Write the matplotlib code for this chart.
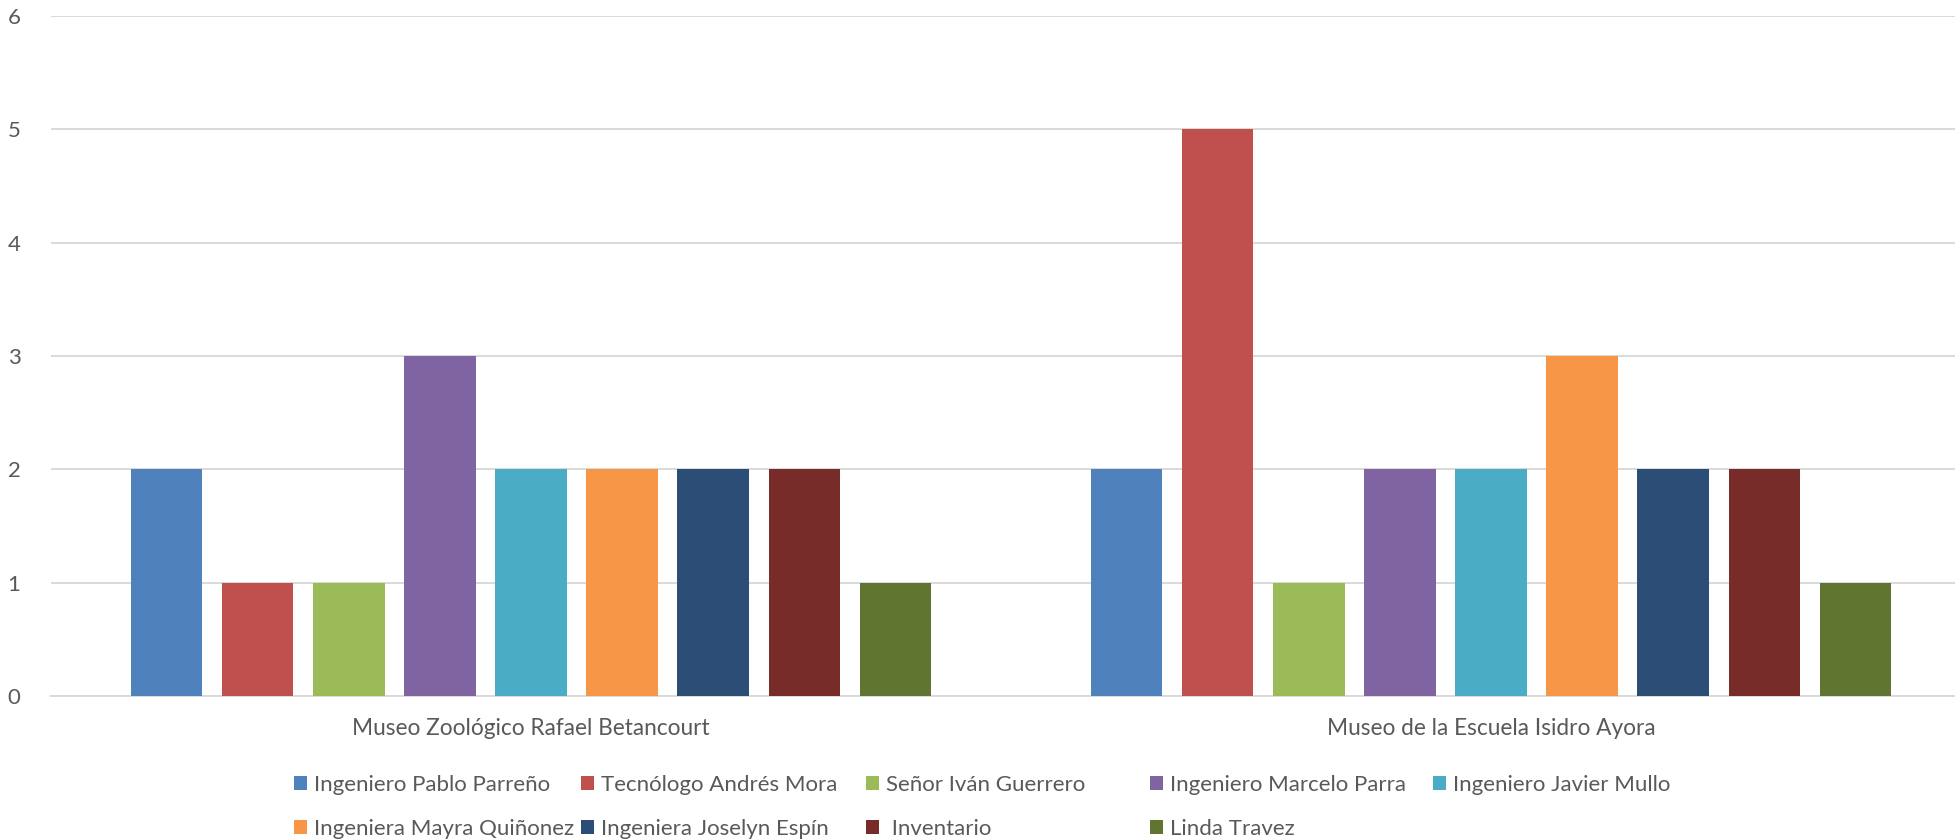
import matplotlib
matplotlib.use("Agg")
import matplotlib.pyplot as plt
from matplotlib.patches import Patch
import numpy as np

categories = ["Museo Zoológico Rafael Betancourt", "Museo de la Escuela Isidro Ayora"]
series_names = [
    "Ingeniero Pablo Parreño",
    "Tecnólogo Andrés Mora",
    "Señor Iván Guerrero",
    "Ingeniero Marcelo Parra",
    "Ingeniero Javier Mullo",
    "Ingeniera Mayra Quiñonez",
    "Ingeniera Joselyn Espín",
    " Inventario",
    "Linda Travez",
]
pablo = [2, 2]
andres = [1, 5]
ivan = [1, 1]
marcelo = [3, 2]
javier = [2, 2]
mayra = [2, 3]
joselyn = [2, 2]
inventario = [2, 2]
linda = [1, 1]
values = [pablo, andres, ivan, marcelo, javier, mayra, joselyn, inventario, linda]
colors = ["#4F81BD", "#C0504D", "#9BBB59", "#8064A2", "#4BACC6",
          "#F79646", "#2C4D75", "#772C2A", "#5F7530"]
yticks = [0, 1, 2, 3, 4, 5, 6]

FONT = "Lato"
TXT = "#595959"
plt.rcParams["font.family"] = [FONT, "DejaVu Sans"]

W, H = 1956, 840
fig = plt.figure(figsize=(W / 100, H / 100), dpi=100)
left, right, top, bottom = 51, 1971, 16, 696
ax = fig.add_axes([left / W, 1 - bottom / H, (right - left) / W, (bottom - top) / H])

x = np.arange(len(categories))
step = 0.0948
width = 0.074
n = len(series_names)
for i, (vals, c) in enumerate(zip(values, colors)):
    ax.bar(x + (i - (n - 1) / 2) * step, vals, width=width, color=c, zorder=3)

ax.set_xlim(-0.5, len(categories) - 0.5)
ax.set_ylim(0, 6)
ax.set_yticks(yticks)
ax.set_yticklabels([str(v) for v in yticks])
ax.set_xticks(x)
ax.set_xticklabels(categories, fontsize=16.3)
ax.grid(axis="y", color="#D9D9D9", linewidth=1.4, zorder=0)
for s in ["top", "right", "left"]:
    ax.spines[s].set_visible(False)
ax.spines["bottom"].set_color("#D9D9D9")
ax.spines["bottom"].set_linewidth(1.4)
ax.spines["bottom"].set_zorder(1)
ax.tick_params(axis="both", length=0, colors=TXT)
ax.tick_params(axis="y", pad=22, labelsize=16)
ax.tick_params(axis="x", pad=16)

# legend: 5 columns, filled row-major
col_x = [294, 581, 866, 1150, 1433]
handles = [Patch(facecolor=c, edgecolor="none") for c in colors]
ncol = 5
for j in range(ncol):
    idx = [k for k in range(n) if k % ncol == j]
    leg = fig.legend([handles[k] for k in idx], [series_names[k] for k in idx],
                     loc="upper left", bbox_to_anchor=(col_x[j] / W, 1 - 775 / H),
                     frameon=False, fontsize=16, handlelength=0.6, handleheight=0.6,
                     handletextpad=0.28, labelspacing=1.07, borderpad=0, borderaxespad=0)
    for t in leg.get_texts():
        t.set_color(TXT)

fig.savefig("out.png", dpi=100)
